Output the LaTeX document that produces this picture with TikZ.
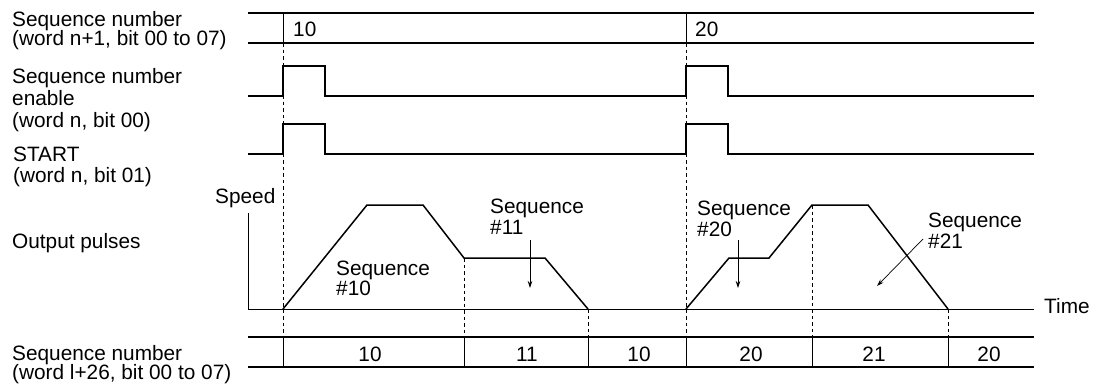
\documentclass[tikz,border=0pt]{standalone}
\usepackage{fontspec}
\setmainfont{Liberation Sans}
\usetikzlibrary{arrows.meta}
\begin{document}
\begin{tikzpicture}[x=1pt,y=-1pt,
  lbl/.style={inner sep=0pt, anchor=base west, font=\fontsize{20.8}{24}\selectfont},
  num/.style={inner sep=0pt, anchor=base, font=\fontsize{20.8}{24}\selectfont},
  sig/.style={line width=1.5pt, line join=miter},
  bus/.style={line width=1.3pt},
  thinl/.style={line width=0.9pt},
  guide/.style={line width=0.9pt, dash pattern=on 3.5pt off 3pt},
  ptr/.style={line width=0.7pt, -{Stealth[length=7pt,width=4.5pt]}}
]
\useasboundingbox (0,0) rectangle (1095,388);

% left labels
\node[lbl] (l1a) at (12,26) {Sequence number};
\node[lbl] (l1b) at (12,45) {(word n+1, bit 00 to 07)};
\node[lbl] (l2a) at (12,83) {Sequence number};
\node[lbl] (l2b) at (12,105) {enable};
\node[lbl] (l2c) at (12,127) {(word n, bit 00)};
\node[lbl] (l3a) at (13,161) {START};
\node[lbl] (l3b) at (13,182) {(word n, bit 01)};
\node[lbl] (l4) at (12,248) {Output pulses};
\node[lbl] (l5a) at (12,360) {Sequence number};
\node[lbl] (l5b) at (12,379) {(word l+26, bit 00 to 07)};

% top bus
\draw[bus] (248,13) -- (1034,13);
\draw[bus] (248,43) -- (1034,43);
\draw[thinl] (283,13) -- (283,43);
\draw[thinl] (686,13) -- (686,43);
\node[lbl] (t10) at (293,36) {10};
\node[lbl] (t20) at (695,36) {20};

% dashed guides
\draw[guide] (283,43) -- (283,337);
\draw[guide] (686,43) -- (686,337);
\draw[guide] (464,258) -- (464,337);
\draw[guide] (588,309) -- (588,337);
\draw[guide] (812,205) -- (812,337);
\draw[guide] (948,309) -- (948,337);

% enable
\draw[sig] (248,96) -- (283,96) -- (283,66) -- (325,66) -- (325,96) -- (686,96)
  -- (686,66) -- (728,66) -- (728,96) -- (1034,96);
% start
\draw[sig] (248,154) -- (283,154) -- (283,124) -- (325,124) -- (325,154) -- (686,154)
  -- (686,124) -- (728,124) -- (728,154) -- (1034,154);

% axes
\draw[thinl] (248,213) -- (248,309) -- (1034,309);
\node[lbl] (speed) at (215,203) {Speed};
\node[lbl] (time) at (1044,313) {Time};

% speed profiles
\draw[sig] (283,309) -- (367,205) -- (423,205) -- (464,258) -- (545,258) -- (588,309);
\draw[sig] (686,309) -- (729,258) -- (769,258) -- (812,205) -- (868,205) -- (948,309);

% sequence labels
\node[lbl] (s10a) at (336,275) {Sequence};
\node[lbl] (s10b) at (336,295) {\#10};
\node[lbl] (s11a) at (490,213) {Sequence};
\node[lbl] (s11b) at (490,234) {\#11};
\node[lbl] (s20a) at (697,215) {Sequence};
\node[lbl] (s20b) at (697,236) {\#20};
\node[lbl] (s21a) at (928,227) {Sequence};
\node[lbl] (s21b) at (928,248) {\#21};

% pointer arrows
\coordinate (a11s) at (530,240);
\coordinate (a11e) at (530,288);
\coordinate (a20s) at (738,240);
\coordinate (a20e) at (738,288);
\coordinate (a21s) at (923,239);
\coordinate (a21e) at (877,286);
\draw[ptr] (a11s) -- (a11e);
\draw[ptr] (a20s) -- (a20e);
\draw[ptr] (a21s) -- (a21e);

% bottom bus
\draw[bus] (248,337) -- (1034,337);
\draw[bus] (248,367) -- (1034,367);
\foreach \x in {283,464,588,686,812,948} \draw[thinl] (\x,337) -- (\x,367);
\node[num] (b1) at (370,361) {10};
\node[num] (b2) at (527,361) {11};
\node[num] (b3) at (639,361) {10};
\node[num] (b4) at (751,361) {20};
\node[num] (b5) at (874,361) {21};
\node[num] (b6) at (989,361) {20};
\end{tikzpicture}
\end{document}
